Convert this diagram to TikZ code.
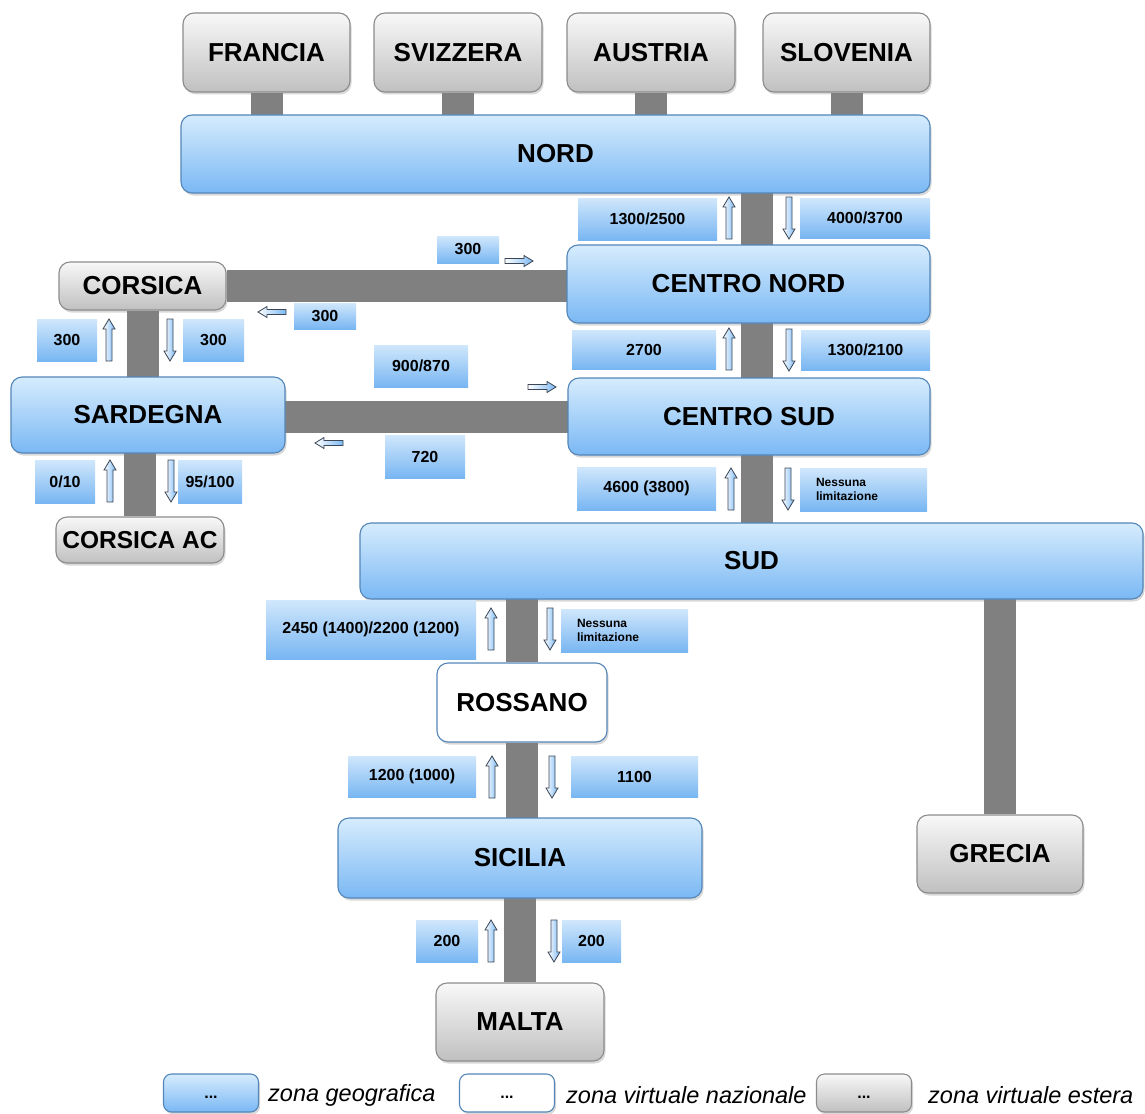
\documentclass[tikz,border=0pt]{standalone}
\usepackage{fontspec}
\setmainfont{Liberation Sans}
\usetikzlibrary{shadows}
\definecolor{geotop}{RGB}{214,236,253}
\definecolor{geobot}{RGB}{122,184,244}
\definecolor{geoline}{RGB}{84,134,184}
\definecolor{esttop}{RGB}{248,248,248}
\definecolor{estbot}{RGB}{192,192,192}
\definecolor{estline}{RGB}{140,140,140}
\definecolor{labtop}{RGB}{208,231,252}
\definecolor{labbot}{RGB}{120,182,242}
\definecolor{barcol}{RGB}{128,128,128}
\definecolor{arrline}{RGB}{60,70,85}
\pgfdeclarelayer{bg}
\pgfsetlayers{bg,main}
\begin{document}
\begin{tikzpicture}[x=1pt,y=-1pt,
  zone/.style={rounded corners=11pt, line width=1.1pt, inner sep=0pt,
    font=\bfseries\fontsize{26}{30}\selectfont,
    drop shadow={shadow xshift=1.5pt, shadow yshift=-2.5pt, opacity=0.3}},
  geo/.style={zone, draw=geoline, top color=geotop, bottom color=geobot},
  est/.style={zone, draw=estline, top color=esttop, bottom color=estbot},
  virt/.style={zone, draw=geoline, fill=white},
  lab/.style={inner sep=0pt, top color=labtop, bottom color=labbot,
    font=\bfseries\fontsize{16}{18}\selectfont},
  smalllab/.style={lab, font=\bfseries\fontsize{12}{14}\selectfont,
    align=left, text width=95pt},
  bar/.style={draw=barcol, line width=32pt},
  arrst/.style={draw=arrline, line width=0.8pt, left color=white, right color=geobot},
  uparr/.pic={\draw[arrst] (-3,21) -- (-3,-11) -- (-6,-11) -- (0,-21) -- (6,-11) -- (3,-11) -- (3,21) -- cycle;},
  dnarr/.pic={\draw[arrst] (-3,-21) -- (-3,11) -- (-6,11) -- (0,21) -- (6,11) -- (3,11) -- (3,-21) -- cycle;},
  rarr/.pic={\draw[arrst] (-14,-2.5) -- (5,-2.5) -- (5,-5.5) -- (14,0) -- (5,5.5) -- (5,2.5) -- (-14,2.5) -- cycle;},
  larr/.pic={\draw[arrst] (14,-2.5) -- (-5,-2.5) -- (-5,-5.5) -- (-14,0) -- (-5,5.5) -- (-5,2.5) -- (14,2.5) -- cycle;},
  legtext/.style={inner sep=0pt, font=\itshape\fontsize{23.5}{26}\selectfont},
  legbox/.style={zone, rounded corners=8pt, minimum width=95pt, minimum height=38pt,
    font=\bfseries\fontsize{16}{18}\selectfont}
]
\useasboundingbox (0,0) rectangle (1145,1113);

% ---------- zones ----------
\node[est, minimum width=167pt, minimum height=79pt] (francia) at (266.5,52.5) {FRANCIA};
\node[est, minimum width=168pt, minimum height=79pt] (svizzera) at (458,52.5) {SVIZZERA};
\node[est, minimum width=168pt, minimum height=79pt] (austria) at (651,52.5) {AUSTRIA};
\node[est, minimum width=167pt, minimum height=79pt] (slovenia) at (846.5,52.5) {SLOVENIA};
\node[geo, minimum width=749pt, minimum height=78pt] (nord) at (555.5,154) {NORD};
\node[geo, minimum width=363pt, minimum height=78pt] (cn) at (748.5,284) {CENTRO NORD};
\node[geo, minimum width=362pt, minimum height=77pt] (cs) at (749,416.5) {CENTRO SUD};
\node[est, minimum width=167pt, minimum height=48pt] (corsica) at (142.5,286) {CORSICA};
\node[geo, minimum width=274pt, minimum height=76pt] (sard) at (148,415) {SARDEGNA};
\node[est, minimum width=168pt, minimum height=46pt, font=\bfseries\fontsize{24.5}{28}\selectfont] (corsicaac) at (140,540) {CORSICA AC};
\node[geo, minimum width=783pt, minimum height=76pt] (sud) at (751.5,561) {SUD};
\node[virt, minimum width=170pt, minimum height=79pt] (rossano) at (522,702.5) {ROSSANO};
\node[geo, minimum width=364pt, minimum height=80pt] (sicilia) at (520,858) {SICILIA};
\node[est, minimum width=166pt, minimum height=78pt] (grecia) at (1000,854) {GRECIA};
\node[est, minimum width=168pt, minimum height=78pt] (malta) at (520,1022) {MALTA};

% ---------- connectors ----------
\begin{pgfonlayer}{bg}
  \fill[white] (0,0) rectangle (1145,1113);
  \draw[bar] (francia) -- (francia |- nord);
  \draw[bar] (svizzera) -- (svizzera |- nord);
  \draw[bar] (austria) -- (austria |- nord);
  \draw[bar] (slovenia) -- (slovenia |- nord);
  \draw[bar] ([xshift=8.5pt]cn.center) -- ([xshift=8.5pt]cn.center |- nord.center);
  \draw[bar] ([xshift=8.5pt]cn.center) -- ([xshift=8.5pt]cn.center |- cs.center);
  \draw[bar] ([xshift=8pt]cs.center) -- ([xshift=8pt]cs.center |- sud.center);
  \draw[bar] (corsica) -- (corsica -| cn);
  \draw[bar] ([yshift=-2pt]sard.center) -- ([yshift=-2pt]sard.center -| cs);
  \draw[bar] (corsica) -- (corsica |- sard);
  \draw[bar] (corsicaac) -- (corsicaac |- sard);
  \draw[bar] (rossano) -- (rossano |- sud);
  \draw[bar] (rossano) -- (rossano |- sicilia);
  \draw[bar] (malta) -- (malta |- sicilia);
  \draw[bar] (grecia) -- (grecia |- sud);
\end{pgfonlayer}

% ---------- capacity labels ----------
\node[lab, minimum width=139pt, minimum height=42pt] (l1) at (647.5,219) {1300/2500};
\node[lab, minimum width=130pt, minimum height=40pt] (l2) at (865,218) {4000/3700};
\node[lab, minimum width=62pt, minimum height=27pt] (l3) at (468,249.5) {300};
\node[lab, minimum width=62pt, minimum height=26pt] (l4) at (325,316) {300};
\node[lab, minimum width=60pt, minimum height=42pt] (l5) at (67,340) {300};
\node[lab, minimum width=61pt, minimum height=42pt] (l6) at (213.5,340) {300};
\node[lab, minimum width=144pt, minimum height=39pt] (l7) at (644,349.5) {2700};
\node[lab, minimum width=129pt, minimum height=40pt] (l8) at (865.5,350) {1300/2100};
\node[lab, minimum width=94pt, minimum height=42pt] (l9) at (421,366) {900/870};
\node[lab, minimum width=80pt, minimum height=43pt] (l10) at (425,456.5) {720};
\node[lab, minimum width=60pt, minimum height=43pt] (l11) at (65,481.5) {0/10};
\node[lab, minimum width=64pt, minimum height=43pt] (l12) at (210,481.5) {95/100};
\node[lab, minimum width=139pt, minimum height=43pt] (l13) at (646.5,488.5) {4600 (3800)};
\node[smalllab, minimum width=127pt, minimum height=43pt] (l14) at (863.5,489.5) {Nessuna\\limitazione};
\node[lab, minimum width=210pt, minimum height=59pt] (l15) at (371,629.5) {2450 (1400)/2200 (1200)};
\node[smalllab, minimum width=127pt, minimum height=43pt] (l16) at (624.5,630.5) {Nessuna\\limitazione};
\node[lab, minimum width=128pt, minimum height=41pt] (l17) at (412,776.5) {1200 (1000)};
\node[lab, minimum width=127pt, minimum height=41pt] (l18) at (634.5,776.5) {1100};
\node[lab, minimum width=62pt, minimum height=42pt] (l19) at (447,941) {200};
\node[lab, minimum width=59pt, minimum height=42pt] (l20) at (591.5,941) {200};

% ---------- flow arrows ----------
\pic at (729,218) {uparr};
\pic at (789,218) {dnarr};
\pic at (729,349) {uparr};
\pic at (789,350) {dnarr};
\pic at (731,489) {uparr};
\pic at (788,489) {dnarr};
\pic at (491,629) {uparr};
\pic at (550,629) {dnarr};
\pic at (492,777) {uparr};
\pic at (552,777) {dnarr};
\pic at (491,941) {uparr};
\pic at (554,941) {dnarr};
\pic at (109,340) {uparr};
\pic at (170,340) {dnarr};
\pic at (110,481) {uparr};
\pic at (171,481) {dnarr};
\pic at (519,261) {rarr};
\pic at (272,312) {larr};
\pic at (542,387) {rarr};
\pic at (329,443) {larr};

% ---------- legend ----------
\node[legbox, draw=geoline, top color=geotop, bottom color=geobot] (lg1) at (211,1093) {\raisebox{-10pt}{...}};
\node[legtext, anchor=west] (lt1) at (268,1095) {zona geografica};
\node[legbox, draw=geoline, fill=white] (lg2) at (507,1093) {\raisebox{-10pt}{...}};
\node[legtext, anchor=west] (lt2) at (566,1095) {zona virtuale nazionale};
\node[legbox, draw=estline, top color=esttop, bottom color=estbot] (lg3) at (864,1093) {\raisebox{-10pt}{...}};
\node[legtext, anchor=west] (lt3) at (928,1095) {zona virtuale estera};
\end{tikzpicture}
\end{document}
